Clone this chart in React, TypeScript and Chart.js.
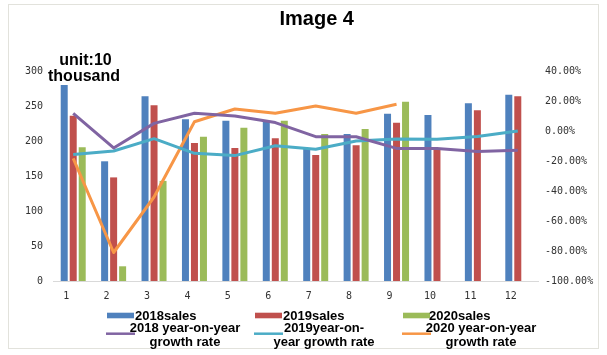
import { useEffect, useRef } from "react";
import { Chart, registerables } from "chart.js";

Chart.register(...registerables);

const months = ["1", "2", "3", "4", "5", "6", "7", "8", "9", "10", "11", "12"];

const sales2018 = [280, 171, 264, 231, 229, 228, 189, 210, 239, 237, 254, 266];
const sales2019 = [236, 148, 251, 197, 190, 204, 180, 194, 226, 190, 244, 264];
const sales2020 = [191, 21, 143, 206, 219, 229, 210, 217, 256, null, null, null];

const growth2018 = [11.8, -11.3, 5.1, 11.8, 10, 5.6, -3.8, -3.8, -11.6, -11.6, -13.6, -12.9];
const growth2019 = [-15.6, -13.3, -5.1, -14.9, -16.4, -9.8, -12.2, -6.7, -5.3, -5.5, -3.6, 0];
const growth2020 = [-18.2, -81, -44, 6.2, 14.7, 11.8, 16.7, 11.8, 17.8, null, null, null];

const salesLabels = ["2018sales", "2019sales", "2020sales"];
const growthLegendLines = [
  ["2018 year-on-year", "growth rate"],
  ["2019year-on-", "year growth rate"],
  ["2020 year-on-year", "growth rate"],
];

const titleText = "Image 4";
const unitLines = ["unit:10", "thousand"];

const barColors = ["#4F81BD", "#C0504D", "#9BBB59"];
const lineColors = ["#8064A2", "#4BACC6", "#F79646"];

const tickFont = { family: "'DejaVu Sans Mono', monospace", size: 10 };
const tickColor = "#333333";

const decor = {
  id: "decor",
  beforeDraw(chart: any) {
    const ctx = chart.ctx;
    ctx.save();
    ctx.fillStyle = "#ffffff";
    ctx.fillRect(0, 0, chart.width, chart.height);
    ctx.strokeStyle = "#e2e2dc";
    ctx.lineWidth = 1;
    ctx.strokeRect(8.5, 4.5, 590, 344);
    ctx.restore();
  },
  afterDraw(chart: any) {
    const ctx = chart.ctx;
    ctx.save();
    ctx.fillStyle = "#000000";
    // title
    ctx.font = "bold 20px 'Liberation Sans', Arial, sans-serif";
    ctx.textAlign = "center";
    ctx.textBaseline = "alphabetic";
    ctx.fillText(titleText, 316.7, 25);
    // unit
    ctx.font = "bold 16px 'Liberation Sans', Arial, sans-serif";
    ctx.fillText(unitLines[0], 85.5, 64.5);
    ctx.fillText(unitLines[1], 84, 81);
    // legend
    ctx.font = "bold 13px 'Liberation Sans', Arial, sans-serif";
    ctx.textBaseline = "middle";
    const rectX = [107, 255, 403];
    const textX = [135, 283, 429];
    const lineX = [106, 254, 402];
    const centerX = [185, 324, 481];
    for (let i = 0; i < 3; i++) {
      ctx.fillStyle = barColors[i];
      ctx.fillRect(rectX[i], 312.7, 27, 5.6);
      ctx.fillStyle = "#000000";
      ctx.textAlign = "left";
      ctx.fillText(salesLabels[i], textX[i], 316);
      ctx.strokeStyle = lineColors[i];
      ctx.lineWidth = 2.5;
      ctx.beginPath();
      ctx.moveTo(lineX[i], 333.7);
      ctx.lineTo(lineX[i] + 29, 333.7);
      ctx.stroke();
      ctx.textAlign = "center";
      ctx.fillText(growthLegendLines[i][0], centerX[i], 328);
      ctx.fillText(growthLegendLines[i][1], centerX[i], 342.5);
    }
    ctx.restore();
  },
};

export default function App() {
  const ref = useRef<HTMLCanvasElement>(null);
  useEffect(() => {
    document.body.style.margin = "0";
    const barSets = [sales2018, sales2019, sales2020].map((d, i) => ({
      type: "bar" as const,
      label: salesLabels[i],
      data: d,
      backgroundColor: barColors[i],
      borderWidth: 0,
      yAxisID: "y",
      categoryPercentage: 0.668,
      barPercentage: 0.778,
      order: 2,
    }));
    const lineSets = [growth2018, growth2019, growth2020].map((d, i) => ({
      type: "line" as const,
      label: growthLegendLines[i].join(" "),
      data: d,
      borderColor: lineColors[i],
      backgroundColor: lineColors[i],
      borderWidth: 3,
      pointRadius: 0,
      tension: 0,
      fill: false,
      borderJoinStyle: "round" as const,
      yAxisID: "y1",
      order: 1,
    }));
    const chart = new Chart(ref.current!, {
      type: "bar",
      data: { labels: months, datasets: [...barSets, ...lineSets] as any },
      options: {
        responsive: false,
        animation: false,
        layout: { padding: { top: 71, bottom: 0, left: 0, right: 0 } },
        plugins: {
          legend: { display: false },
          title: { display: false },
          tooltip: { enabled: false },
        },
        scales: {
          x: {
            grid: { display: false, drawTicks: false },
            border: { display: true, color: "#d9d9d9", width: 1 },
            ticks: {
              font: tickFont,
              color: tickColor,
              padding: 9,
              labelOffset: -7,
              maxRotation: 0,
              autoSkip: false,
            },
            afterFit: (s: any) => {
              s.height = 74;
            },
          },
          y: {
            position: "left",
            min: 0,
            max: 300,
            ticks: { stepSize: 50, padding: 10, font: tickFont, color: tickColor },
            grid: { display: false, drawTicks: false },
            border: { display: false },
            afterFit: (s: any) => {
              s.width = 53;
            },
          },
          y1: {
            position: "right",
            min: -100,
            max: 40,
            ticks: {
              stepSize: 20,
              padding: 7,
              font: tickFont,
              color: tickColor,
              callback: (v: any) => Number(v).toFixed(2) + "%",
            },
            grid: { display: false, drawTicks: false },
            border: { display: false },
            afterFit: (s: any) => {
              s.width = 69;
            },
          },
        },
      },
      plugins: [decor],
    });
    return () => chart.destroy();
  }, []);
  return <canvas ref={ref} width={607} height={355} style={{ display: "block" }} />;
}
